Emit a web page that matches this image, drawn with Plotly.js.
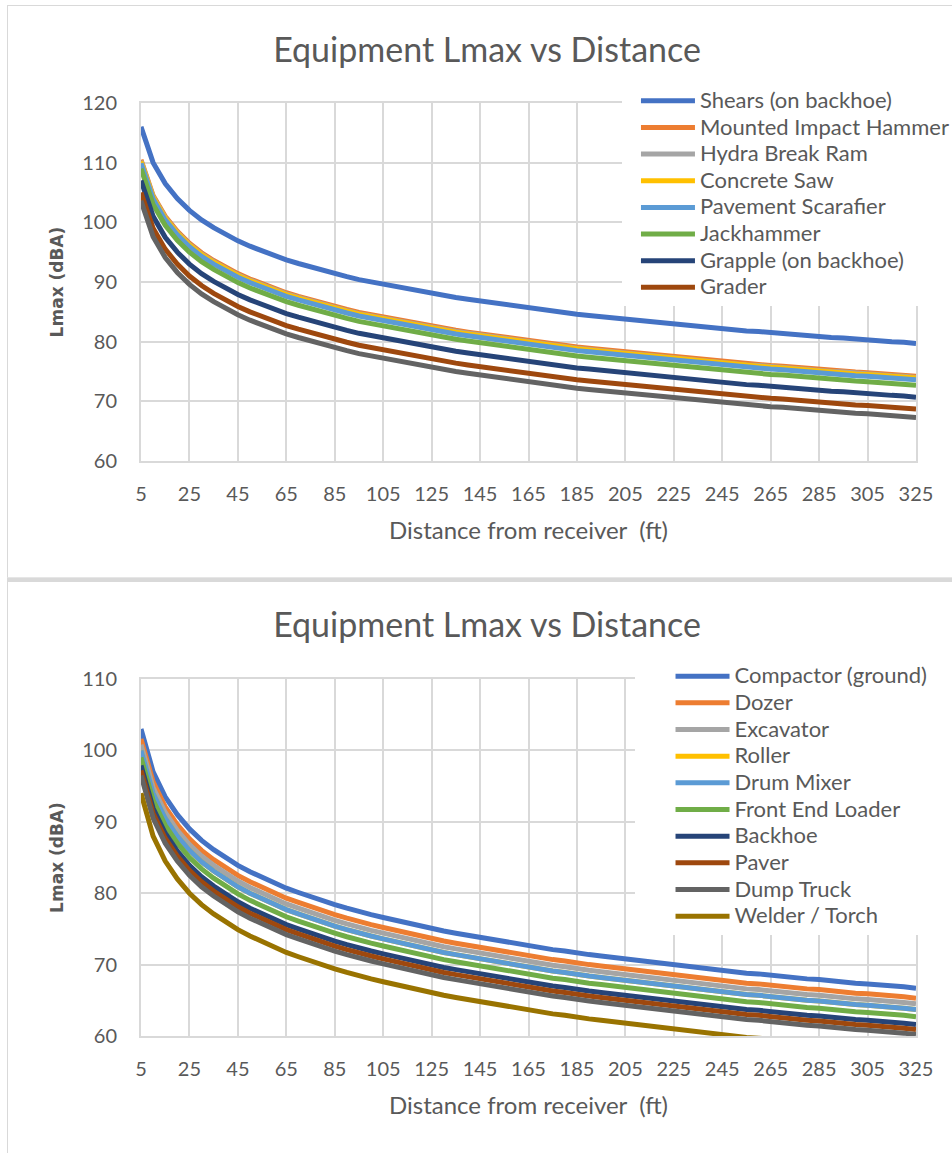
<!DOCTYPE html>
<html>
<head>
<meta charset="utf-8">
<script src="https://cdn.plot.ly/plotly-3.0.1.min.js"></script>
<style>
html,body{margin:0;padding:0;background:#fff;width:952px;height:1153px;overflow:hidden;}
#frame1{position:absolute;left:7px;top:5px;width:960px;height:571px;border-left:1.5px solid #d9d9d9;border-top:1.5px solid #d9d9d9;border-bottom:1px solid #e6e6e6;}
#sep{position:absolute;left:7px;top:578px;width:960px;height:4px;background:#d9d9d9;}
#frame2{position:absolute;left:7px;top:582px;width:960px;height:600px;border-left:1.5px solid #d9d9d9;}
#chart1{position:absolute;left:0;top:0;width:952px;height:577px;}
#chart2{position:absolute;left:0;top:577px;width:952px;height:576px;}
</style>
</head>
<body>
<div id="frame1"></div>
<div id="sep"></div>
<div id="frame2"></div>
<div id="chart1"></div>
<div id="chart2"></div>
<script>
// ---- data ----
var distance = [5,10,15,20,25,30,35,40,45,50,55,60,65,70,75,80,85,90,95,100,105,110,115,120,125,130,135,140,145,150,155,160,165,170,175,180,185,190,195,200,205,210,215,220,225,230,235,240,245,250,255,260,265,270,275,280,285,290,295,300,305,310,315,320,325];
var xTickLabels = [5,25,45,65,85,105,125,145,165,185,205,225,245,265,285,305,325];

// top chart series (Lmax, dBA)
var shears = [116.0,110.0,106.5,104.0,102.0,100.4,99.1,97.9,96.9,96.0,95.2,94.4,93.7,93.1,92.5,91.9,91.4,90.9,90.4,90.0,89.6,89.2,88.8,88.4,88.0,87.7,87.4,87.1,86.8,86.5,86.2,85.9,85.6,85.4,85.1,84.9,84.6,84.4,84.2,84.0,83.7,83.5,83.3,83.1,82.9,82.7,82.6,82.4,82.2,82.0,81.8,81.7,81.5,81.4,81.2,81.0,80.9,80.7,80.6,80.4,80.3,80.2,80.0,79.9,79.7];
var mountedImpactHammer = [110.5,104.5,101.0,98.5,96.5,94.9,93.6,92.4,91.4,90.5,89.7,88.9,88.2,87.6,87.0,86.4,85.9,85.4,84.9,84.5,84.1,83.7,83.3,82.9,82.5,82.2,81.9,81.6,81.3,81.0,80.7,80.4,80.1,79.9,79.6,79.4,79.1,78.9,78.7,78.5,78.2,78.0,77.8,77.6,77.4,77.2,77.1,76.9,76.7,76.5,76.3,76.2,76.0,75.9,75.7,75.5,75.4,75.2,75.1,74.9,74.8,74.7,74.5,74.4,74.2];
var hydraBreakRam = [110.3,104.3,100.8,98.3,96.3,94.7,93.4,92.2,91.2,90.3,89.5,88.7,88.0,87.4,86.8,86.2,85.7,85.2,84.7,84.3,83.9,83.5,83.1,82.7,82.3,82.0,81.7,81.4,81.1,80.8,80.5,80.2,79.9,79.7,79.4,79.2,78.9,78.7,78.5,78.3,78.0,77.8,77.6,77.4,77.2,77.0,76.9,76.7,76.5,76.3,76.1,76.0,75.8,75.7,75.5,75.3,75.2,75.0,74.9,74.7,74.6,74.5,74.3,74.2,74.0];
var concreteSaw = [110.2,104.2,100.7,98.2,96.2,94.6,93.3,92.1,91.1,90.2,89.4,88.6,87.9,87.3,86.7,86.1,85.6,85.1,84.6,84.2,83.8,83.4,83.0,82.6,82.2,81.9,81.6,81.3,81.0,80.7,80.4,80.1,79.8,79.6,79.3,79.1,78.8,78.6,78.4,78.2,77.9,77.7,77.5,77.3,77.1,76.9,76.8,76.6,76.4,76.2,76.0,75.9,75.7,75.6,75.4,75.2,75.1,74.9,74.8,74.6,74.5,74.4,74.2,74.1,73.9];
var pavementScarafier = [109.9,103.9,100.4,97.9,95.9,94.3,93.0,91.8,90.8,89.9,89.1,88.3,87.6,87.0,86.4,85.8,85.3,84.8,84.3,83.9,83.5,83.1,82.7,82.3,81.9,81.6,81.3,81.0,80.7,80.4,80.1,79.8,79.5,79.3,79.0,78.8,78.5,78.3,78.1,77.9,77.6,77.4,77.2,77.0,76.8,76.6,76.5,76.3,76.1,75.9,75.7,75.6,75.4,75.3,75.1,74.9,74.8,74.6,74.5,74.3,74.2,74.1,73.9,73.8,73.6];
var jackhammer = [109.0,103.0,99.5,97.0,95.0,93.4,92.1,90.9,89.9,89.0,88.2,87.4,86.7,86.1,85.5,84.9,84.4,83.9,83.4,83.0,82.6,82.2,81.8,81.4,81.0,80.7,80.4,80.1,79.8,79.5,79.2,78.9,78.6,78.4,78.1,77.9,77.6,77.4,77.2,77.0,76.7,76.5,76.3,76.1,75.9,75.7,75.6,75.4,75.2,75.0,74.8,74.7,74.5,74.4,74.2,74.0,73.9,73.7,73.6,73.4,73.3,73.2,73.0,72.9,72.7];
var grapple = [107.0,101.0,97.5,95.0,93.0,91.4,90.1,88.9,87.9,87.0,86.2,85.4,84.7,84.1,83.5,82.9,82.4,81.9,81.4,81.0,80.6,80.2,79.8,79.4,79.0,78.7,78.4,78.1,77.8,77.5,77.2,76.9,76.6,76.4,76.1,75.9,75.6,75.4,75.2,75.0,74.7,74.5,74.3,74.1,73.9,73.7,73.6,73.4,73.2,73.0,72.8,72.7,72.5,72.4,72.2,72.0,71.9,71.7,71.6,71.4,71.3,71.2,71.0,70.9,70.7];
var grader = [105.0,99.0,95.5,93.0,91.0,89.4,88.1,86.9,85.9,85.0,84.2,83.4,82.7,82.1,81.5,80.9,80.4,79.9,79.4,79.0,78.6,78.2,77.8,77.4,77.0,76.7,76.4,76.1,75.8,75.5,75.2,74.9,74.6,74.4,74.1,73.9,73.6,73.4,73.2,73.0,72.7,72.5,72.3,72.1,71.9,71.7,71.6,71.4,71.2,71.0,70.8,70.7,70.5,70.4,70.2,70.0,69.9,69.7,69.6,69.4,69.3,69.2,69.0,68.9,68.7];
var unlabeledSeries = [103.6,97.6,94.1,91.6,89.6,88.0,86.7,85.5,84.5,83.6,82.8,82.0,81.3,80.7,80.1,79.5,79.0,78.5,78.0,77.6,77.2,76.8,76.4,76.0,75.6,75.3,75.0,74.7,74.4,74.1,73.8,73.5,73.2,73.0,72.7,72.5,72.2,72.0,71.8,71.6,71.3,71.1,70.9,70.7,70.5,70.3,70.2,70.0,69.8,69.6,69.4,69.3,69.1,69.0,68.8,68.6,68.5,68.3,68.2,68.0,67.9,67.8,67.6,67.5,67.3];

// bottom chart series (Lmax, dBA)
var compactor = [103.0,97.0,93.5,91.0,89.0,87.4,86.1,84.9,83.9,83.0,82.2,81.4,80.7,80.1,79.5,78.9,78.4,77.9,77.4,77.0,76.6,76.2,75.8,75.4,75.0,74.7,74.4,74.1,73.8,73.5,73.2,72.9,72.6,72.4,72.1,71.9,71.6,71.4,71.2,71.0,70.7,70.5,70.3,70.1,69.9,69.7,69.6,69.4,69.2,69.0,68.8,68.7,68.5,68.4,68.2,68.0,67.9,67.7,67.6,67.4,67.3,67.2,67.0,66.9,66.7];
var dozer = [101.6,95.6,92.1,89.6,87.6,86.0,84.7,83.5,82.5,81.6,80.8,80.0,79.3,78.7,78.1,77.5,77.0,76.5,76.0,75.6,75.2,74.8,74.4,74.0,73.6,73.3,73.0,72.7,72.4,72.1,71.8,71.5,71.2,71.0,70.7,70.5,70.2,70.0,69.8,69.6,69.3,69.1,68.9,68.7,68.5,68.3,68.2,68.0,67.8,67.6,67.4,67.3,67.1,67.0,66.8,66.6,66.5,66.3,66.2,66.0,65.9,65.8,65.6,65.5,65.3];
var excavator = [100.8,94.8,91.3,88.8,86.8,85.2,83.9,82.7,81.7,80.8,80.0,79.2,78.5,77.9,77.3,76.7,76.2,75.7,75.2,74.8,74.4,74.0,73.6,73.2,72.8,72.5,72.2,71.9,71.6,71.3,71.0,70.7,70.4,70.2,69.9,69.7,69.4,69.2,69.0,68.8,68.5,68.3,68.1,67.9,67.7,67.5,67.4,67.2,67.0,66.8,66.6,66.5,66.3,66.2,66.0,65.8,65.7,65.5,65.4,65.2,65.1,65.0,64.8,64.7,64.5];
var roller = [100.0,94.0,90.5,88.0,86.0,84.4,83.1,81.9,80.9,80.0,79.2,78.4,77.7,77.1,76.5,75.9,75.4,74.9,74.4,74.0,73.6,73.2,72.8,72.4,72.0,71.7,71.4,71.1,70.8,70.5,70.2,69.9,69.6,69.4,69.1,68.9,68.6,68.4,68.2,68.0,67.7,67.5,67.3,67.1,66.9,66.7,66.6,66.4,66.2,66.0,65.8,65.7,65.5,65.4,65.2,65.0,64.9,64.7,64.6,64.4,64.3,64.2,64.0,63.9,63.7];
var drumMixer = [100.0,94.0,90.5,88.0,86.0,84.4,83.1,81.9,80.9,80.0,79.2,78.4,77.7,77.1,76.5,75.9,75.4,74.9,74.4,74.0,73.6,73.2,72.8,72.4,72.0,71.7,71.4,71.1,70.8,70.5,70.2,69.9,69.6,69.4,69.1,68.9,68.6,68.4,68.2,68.0,67.7,67.5,67.3,67.1,66.9,66.7,66.6,66.4,66.2,66.0,65.8,65.7,65.5,65.4,65.2,65.0,64.9,64.7,64.6,64.4,64.3,64.2,64.0,63.9,63.7];
var frontEndLoader = [99.0,93.0,89.5,87.0,85.0,83.4,82.1,80.9,79.9,79.0,78.2,77.4,76.7,76.1,75.5,74.9,74.4,73.9,73.4,73.0,72.6,72.2,71.8,71.4,71.0,70.7,70.4,70.1,69.8,69.5,69.2,68.9,68.6,68.4,68.1,67.9,67.6,67.4,67.2,67.0,66.7,66.5,66.3,66.1,65.9,65.7,65.6,65.4,65.2,65.0,64.8,64.7,64.5,64.4,64.2,64.0,63.9,63.7,63.6,63.4,63.3,63.2,63.0,62.9,62.7];
var backhoe = [97.9,91.9,88.4,85.9,83.9,82.3,81.0,79.8,78.8,77.9,77.1,76.3,75.6,75.0,74.4,73.8,73.3,72.8,72.3,71.9,71.5,71.1,70.7,70.3,69.9,69.6,69.3,69.0,68.7,68.4,68.1,67.8,67.5,67.3,67.0,66.8,66.5,66.3,66.1,65.9,65.6,65.4,65.2,65.0,64.8,64.6,64.5,64.3,64.1,63.9,63.7,63.6,63.4,63.3,63.1,62.9,62.8,62.6,62.5,62.3,62.2,62.1,61.9,61.8,61.6];
var paver = [97.2,91.2,87.7,85.2,83.2,81.6,80.3,79.1,78.1,77.2,76.4,75.6,74.9,74.3,73.7,73.1,72.6,72.1,71.6,71.2,70.8,70.4,70.0,69.6,69.2,68.9,68.6,68.3,68.0,67.7,67.4,67.1,66.8,66.6,66.3,66.1,65.8,65.6,65.4,65.2,64.9,64.7,64.5,64.3,64.1,63.9,63.8,63.6,63.4,63.2,63.0,62.9,62.7,62.6,62.4,62.2,62.1,61.9,61.8,61.6,61.5,61.4,61.2,61.1,60.9];
var dumpTruck = [96.5,90.5,87.0,84.5,82.5,80.9,79.6,78.4,77.4,76.5,75.7,74.9,74.2,73.6,73.0,72.4,71.9,71.4,70.9,70.5,70.1,69.7,69.3,68.9,68.5,68.2,67.9,67.6,67.3,67.0,66.7,66.4,66.1,65.9,65.6,65.4,65.1,64.9,64.7,64.5,64.2,64.0,63.8,63.6,63.4,63.2,63.1,62.9,62.7,62.5,62.3,62.2,62.0,61.9,61.7,61.5,61.4,61.2,61.1,60.9,60.8,60.7,60.5,60.4,60.2];
var welderTorch = [94.0,88.0,84.5,82.0,80.0,78.4,77.1,75.9,74.9,74.0,73.2,72.4,71.7,71.1,70.5,69.9,69.4,68.9,68.4,68.0,67.6,67.2,66.8,66.4,66.0,65.7,65.4,65.1,64.8,64.5,64.2,63.9,63.6,63.4,63.1,62.9,62.6,62.4,62.2,62.0,61.7,61.5,61.3,61.1,60.9,60.7,60.6,60.4,60.2,60.0,59.8,59.7,59.5,59.4,59.2,59.0,58.9,58.7,58.6,58.4,58.3,58.2,58.0,57.9,57.7];

var topNames = ['Shears (on backhoe)','Mounted Impact Hammer','Hydra Break Ram','Concrete Saw','Pavement Scarafier','Jackhammer','Grapple (on backhoe)','Grader','Unlabeled series'];
var topValues = [shears, mountedImpactHammer, hydraBreakRam, concreteSaw, pavementScarafier, jackhammer, grapple, grader, unlabeledSeries];
var bottomNames = ['Compactor (ground)','Dozer','Excavator','Roller','Drum Mixer','Front End Loader','Backhoe','Paver','Dump Truck','Welder / Torch'];
var bottomValues = [compactor, dozer, excavator, roller, drumMixer, frontEndLoader, backhoe, paver, dumpTruck, welderTorch];

// ---- styles ----
var palette = ['#4472C4','#ED7D31','#A5A5A5','#FFC000','#5B9BD5','#70AD47','#264478','#9E480E','#636363','#997300'];
var FONT = 'Lato, "Open Sans", sans-serif';
var TXT = '#595959';
var GRID = '#d9d9d9';

function makeTraces(names, values, legendCount) {
  return names.map(function(n, i) {
    return {
      type: 'scatter', mode: 'lines', x: distance, y: values[i],
      name: '<span style="font-size:22px">' + n + '</span>',
      showlegend: i < legendCount,
      line: {color: palette[i], width: 5},
      hoverinfo: 'skip'
    };
  });
}

function makeLayout(yRange, legendX, legendY, indent, mT, mB, H, titleY) {
  return {
    width: 952, height: H,
    margin: {l: 141, r: 36, t: mT, b: mB, pad: 0, autoexpand: false},
    paper_bgcolor: 'rgba(0,0,0,0)', plot_bgcolor: 'rgba(0,0,0,0)',
    font: {family: FONT, color: TXT},
    title: {text: 'Equipment Lmax vs Distance', font: {family: FONT, size: 34, color: TXT},
            xref: 'paper', x: 0.4465, xanchor: 'center', yref: 'container', y: titleY, yanchor: 'middle'},
    showlegend: true,
    legend: {x: legendX, y: legendY, xanchor: 'left', yanchor: 'top', bgcolor: '#ffffff', borderwidth: 0,
             font: {family: FONT, size: 18.2, color: TXT}, itemwidth: 54, indentation: indent,
             traceorder: 'normal', itemclick: false},
    xaxis: {range: [5, 325], tickmode: 'array', tickvals: xTickLabels, ticktext: xTickLabels.map(String),
            showgrid: true, gridcolor: GRID, gridwidth: 2, zeroline: false,
            showline: true, linecolor: GRID, linewidth: 2, mirror: true,
            ticks: 'outside', ticklen: 14, tickcolor: 'rgba(0,0,0,0)',
            tickfont: {family: FONT, size: 20, color: TXT},
            title: {text: 'Distance from receiver\u00a0 (ft)', font: {family: FONT, size: 24, color: TXT}, standoff: 18}},
    yaxis: {range: yRange, dtick: 10, tick0: 60, showgrid: true, gridcolor: GRID, gridwidth: 2, zeroline: false,
            showline: true, linecolor: GRID, linewidth: 2, mirror: true,
            ticks: 'outside', ticklen: 18, tickcolor: 'rgba(0,0,0,0)',
            tickfont: {family: FONT, size: 20, color: TXT},
            title: {text: 'Lmax (dBA)', font: {family: '"DejaVu Sans", Verdana, sans-serif', size: 17, color: TXT, weight: 'bold'}, standoff: 14}}
  };
}

var cfg = {staticPlot: true, displayModeBar: false};
Plotly.newPlot('chart1', makeTraces(topNames, topValues, 8),
  makeLayout([60, 120], 0.6206, 1.0575, 14, 103, 116, 577, 0.9133), cfg);
Plotly.newPlot('chart2', makeTraces(bottomNames, bottomValues, 10),
  makeLayout([60, 110], 0.6368, 1.0592, 36, 102.3, 117.3, 576, 0.917), cfg);
</script>
</body>
</html>
